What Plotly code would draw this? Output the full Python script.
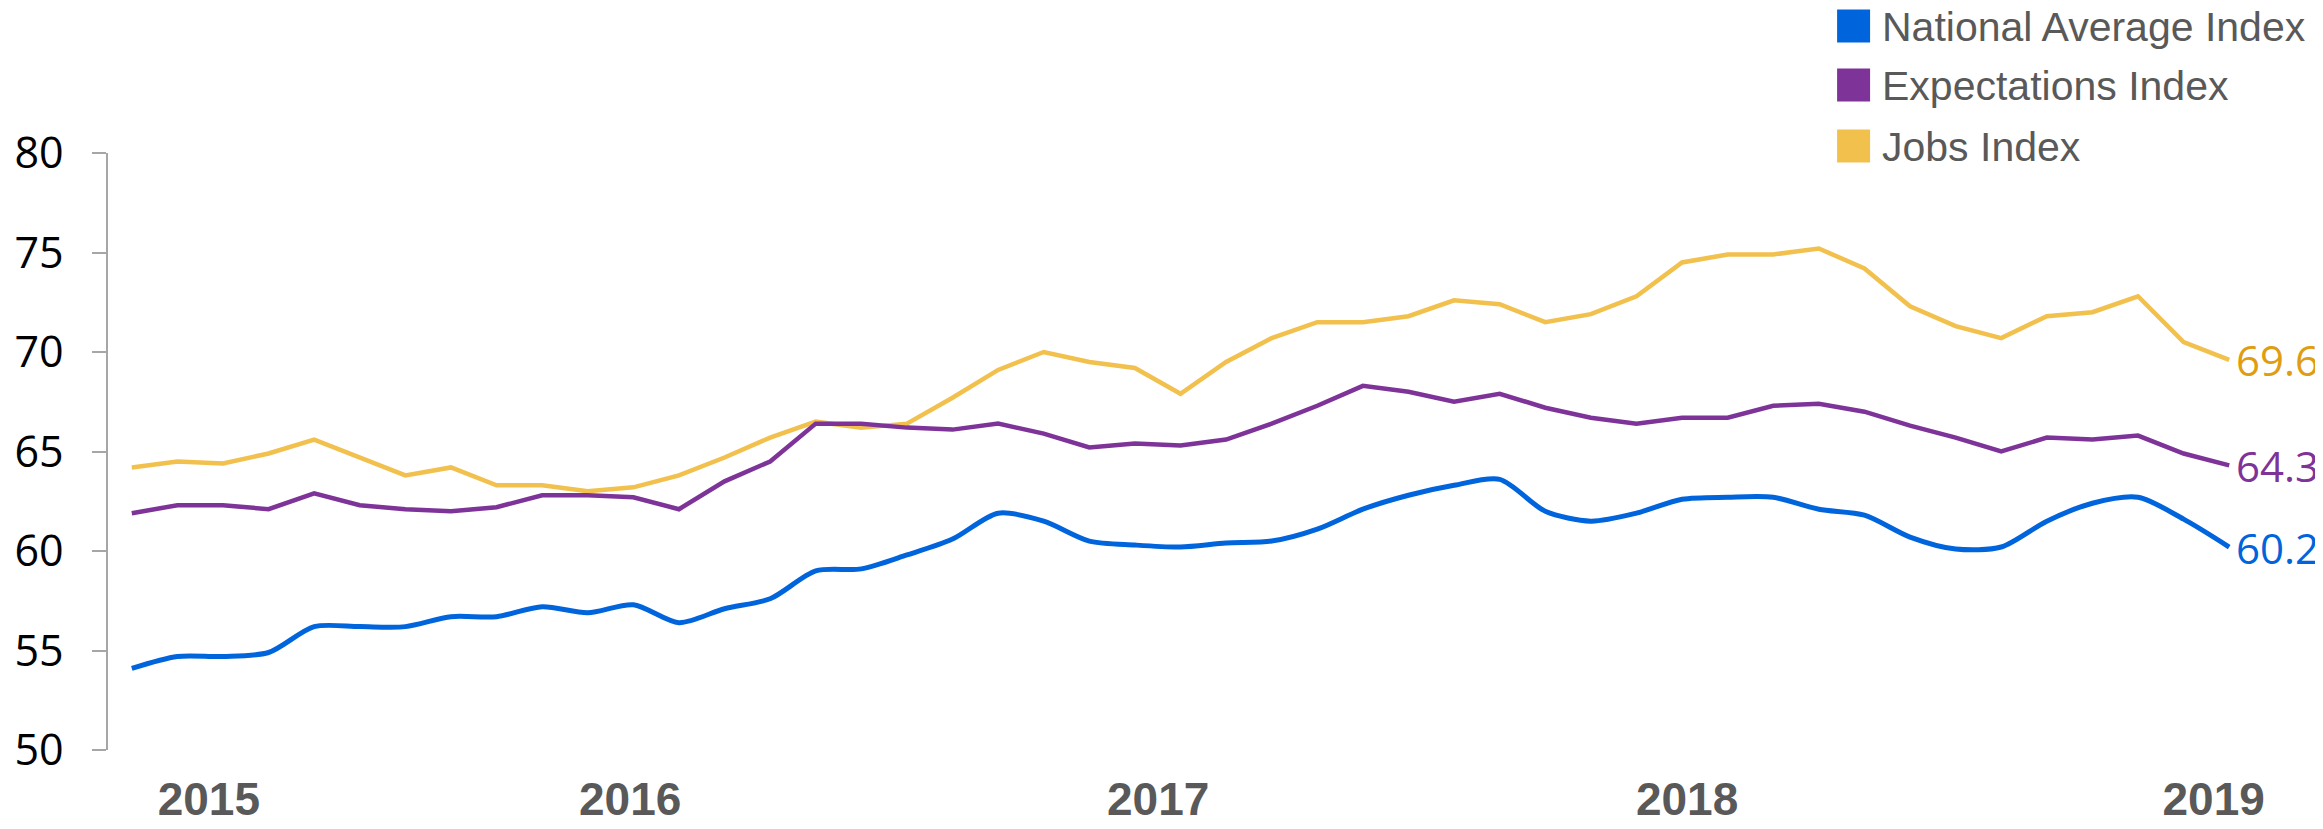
import plotly.graph_objects as go

# ---- data ----
periods = list(range(47))
national = [54.1, 54.7, 54.7, 54.9, 56.2, 56.2, 56.2, 56.7, 56.7, 57.2, 56.9, 57.3,
            56.4, 57.1, 57.6, 59.0, 59.1, 59.8, 60.6, 61.9, 61.5, 60.5, 60.3, 60.2,
            60.4, 60.5, 61.1, 62.1, 62.8, 63.3, 63.6, 62.0, 61.5, 61.9, 62.6,
            62.7, 62.7, 62.1, 61.8, 60.7, 60.1, 60.2, 61.5, 62.4, 62.7, 61.6, 60.2]
expectations = [61.9, 62.3, 62.3, 62.1, 62.9, 62.3, 62.1, 62.0, 62.2, 62.8, 62.8, 62.7,
                62.1, 63.5, 64.5, 66.4, 66.4, 66.2, 66.1, 66.4, 65.9, 65.2, 65.4, 65.3,
                65.6, 66.4, 67.3, 68.3, 68.0, 67.5, 67.9, 67.2, 66.7, 66.4, 66.7,
                66.7, 67.3, 67.4, 67.0, 66.3, 65.7, 65.0, 65.7, 65.6, 65.8, 64.9, 64.3]
jobs = [64.2, 64.5, 64.4, 64.9, 65.6, 64.7, 63.8, 64.2, 63.3, 63.3, 63.0, 63.2,
        63.8, 64.7, 65.7, 66.5, 66.2, 66.4, 67.7, 69.1, 70.0, 69.5, 69.2, 67.9,
        69.5, 70.7, 71.5, 71.5, 71.8, 72.6, 72.4, 71.5, 71.9, 72.8, 74.5,
        74.9, 74.9, 75.2, 74.2, 72.3, 71.3, 70.7, 71.8, 72.0, 72.8, 70.5, 69.6]
year_tick_pos = [1.69, 10.93, 22.51, 34.11, 45.66]
year_labels = ["2015", "2016", "2017", "2018", "2019"]
y_ticks = [50, 55, 60, 65, 70, 75, 80]
series_names = ["National Average Index", "Expectations Index", "Jobs Index"]

# ---- styles ----
BLUE = "#0064DC"
PURPLE = "#7E3399"
YELLOW = "#F2C04D"
GOLD_TXT = "#E09D12"
GREY = "#595959"

# the page body adds an 8px offset; layout pixel values below are page pixels
OFF = 8
W, H = 2323 - OFF, 829 - OFF
L, R, T, B = 107.5 - OFF, 2240 - OFF, 153 - OFF, 750 - OFF

fig = go.Figure()
fig.add_trace(go.Scatter(x=periods, y=jobs, mode="lines",
                         line=dict(color=YELLOW, width=4.5), name=series_names[2],
                         showlegend=False))
fig.add_trace(go.Scatter(x=periods, y=expectations, mode="lines",
                         line=dict(color=PURPLE, width=4.5), name=series_names[1],
                         showlegend=False))
fig.add_trace(go.Scatter(x=periods, y=national, mode="lines",
                         line=dict(color=BLUE, width=5, shape="spline", smoothing=0.8),
                         name=series_names[0], showlegend=False))

# end-value labels
for series, col in [(jobs, GOLD_TXT), (expectations, PURPLE), (national, BLUE)]:
    fig.add_annotation(x=periods[-1], y=series[-1], xref="x", yref="y",
                       text=f"{series[-1]:.1f}", showarrow=False,
                       xanchor="left", yanchor="middle", xshift=5,
                       font=dict(family="Open Sans", size=42, color=col))

# manual legend (squares + text)
def px_to_paper_x(px):
    return (px - OFF - L) / (R - L)

def px_to_paper_y(py):
    return (B - (py - OFF)) / (B - T)

legend_rows = [(series_names[0], BLUE, 26), (series_names[1], PURPLE, 85), (series_names[2], YELLOW, 146)]
for name, col, cy in legend_rows:
    fig.add_shape(type="rect", xref="paper", yref="paper",
                  x0=px_to_paper_x(1837), x1=px_to_paper_x(1870),
                  y0=px_to_paper_y(cy + 16.5), y1=px_to_paper_y(cy - 16.5),
                  fillcolor=col, line=dict(width=0))
    fig.add_annotation(xref="paper", yref="paper", x=px_to_paper_x(1880), y=px_to_paper_y(cy + 1),
                       text=name, showarrow=False, xanchor="left", yanchor="middle",
                       font=dict(family="Liberation Sans", size=41, color=GREY))

x_scale = (2229.2 - 131.3) / 46
xmin = -(131.3 - 107.5) / x_scale
xmax = xmin + (R - L) / x_scale

fig.update_layout(
    width=W, height=H,
    margin=dict(l=L, r=W - R, t=T, b=H - B, pad=0, autoexpand=False),
    plot_bgcolor="white", paper_bgcolor="white",
    xaxis=dict(range=[xmin, xmax], showgrid=False, zeroline=False, showline=False,
               automargin=False,
               ticks="", tickmode="array", tickvals=year_tick_pos, ticktext=year_labels,
               tickfont=dict(family="Liberation Sans", size=46, color=GREY, weight="bold"),
               ticklabelstandoff=18),
    yaxis=dict(range=[50, 80], showgrid=False, zeroline=False, showline=True,
               automargin=False,
               linecolor="#A6A6A6", linewidth=1.5,
               ticks="outside", ticklen=14, tickcolor="#A6A6A6", tickwidth=1.5,
               tickmode="array", tickvals=y_ticks,
               tickfont=dict(family="Open Sans", size=43, color="black"),
               ticklabelstandoff=20),
)

fig.write_html("out.html")
